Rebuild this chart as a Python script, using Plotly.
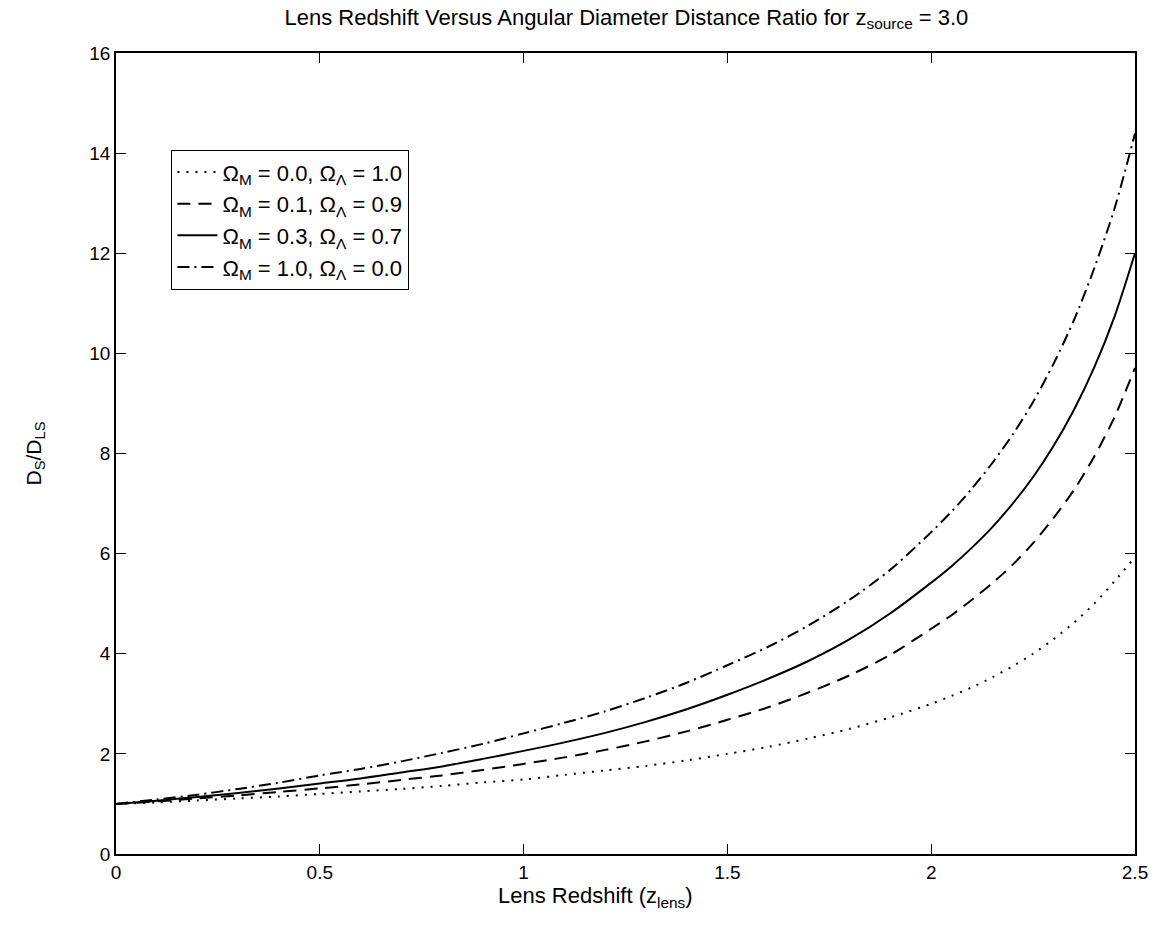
import plotly.graph_objects as go

# Lens redshift grid
z_lens = [0.0, 0.1, 0.2, 0.3, 0.4, 0.5, 0.6, 0.7, 0.8, 0.9, 1.0, 1.1, 1.2, 1.3,
          1.4, 1.5, 1.6, 1.7, 1.8, 1.9, 2.0, 2.05, 2.1, 2.15, 2.2, 2.25, 2.3,
          2.35, 2.4, 2.45, 2.5]

# D_S / D_LS for each cosmology
ratio_m00_l10 = [1.00, 1.03, 1.07, 1.11, 1.15, 1.20, 1.25, 1.30, 1.36, 1.43, 1.49, 1.58, 1.67,
                 1.76, 1.87, 2.00, 2.14, 2.31, 2.50, 2.73, 3.00, 3.16, 3.33, 3.53, 3.75,
                 4.00, 4.29, 4.62, 5.00, 5.45, 5.93]
ratio_m01_l09 = [1.00, 1.05, 1.11, 1.17, 1.24, 1.31, 1.39, 1.48, 1.57, 1.68, 1.80, 1.93, 2.08,
                 2.25, 2.45, 2.68, 2.93, 3.23, 3.57, 3.98, 4.50, 4.77, 5.08, 5.41, 5.78,
                 6.21, 6.71, 7.27, 7.94, 8.73, 9.71]
ratio_m03_l07 = [1.00, 1.065, 1.14, 1.22, 1.31, 1.41, 1.51, 1.63, 1.75, 1.90, 2.06, 2.23, 2.42,
                 2.64, 2.89, 3.18, 3.50, 3.86, 4.29, 4.81, 5.42, 5.75, 6.12, 6.53, 7.00,
                 7.53, 8.15, 8.87, 9.72, 10.74, 12.00]
ratio_m10_l00 = [1.00, 1.09, 1.185, 1.30, 1.425, 1.57, 1.70, 1.85, 2.02, 2.20, 2.41, 2.62, 2.85,
                 3.12, 3.42, 3.77, 4.14, 4.57, 5.08, 5.68, 6.43, 6.84, 7.30, 7.81, 8.38,
                 9.03, 9.79, 10.66, 11.70, 12.90, 14.39]

series_names = [
    "Ω<sub>M</sub> = 0.0, Ω<sub>Λ</sub> = 1.0",
    "Ω<sub>M</sub> = 0.1, Ω<sub>Λ</sub> = 0.9",
    "Ω<sub>M</sub> = 0.3, Ω<sub>Λ</sub> = 0.7",
    "Ω<sub>M</sub> = 1.0, Ω<sub>Λ</sub> = 0.0",
]
series_values = [ratio_m00_l10, ratio_m01_l09, ratio_m03_l07, ratio_m10_l00]
series_dash = ["2px,7px", "13px,8px", "solid", "12px,5px,2px,5px"]

x_ticks = [0, 0.5, 1, 1.5, 2, 2.5]
x_tick_labels = ["0", "0.5", "1", "1.5", "2", "2.5"]
y_ticks = [0, 2, 4, 6, 8, 10, 12, 14, 16]

FONT = "Liberation Sans, Arial, Helvetica, sans-serif"

fig = go.Figure()
for name, vals, dash in zip(series_names, series_values, series_dash):
    fig.add_trace(go.Scatter(
        x=z_lens, y=vals, mode="lines", name=name,
        line=dict(color="black", width=2, dash=dash, shape="spline", smoothing=0.8),
    ))

axis_common = dict(
    showline=True, linecolor="black", linewidth=1.6, mirror="allticks",
    ticks="inside", ticklen=10, tickwidth=1.4, tickcolor="black",
    showgrid=False, zeroline=False,
    tickfont=dict(family=FONT, size=19, color="black"),
)

fig.update_layout(
    width=1160, height=936,
    margin=dict(l=116, r=23, t=53, b=82),
    paper_bgcolor="white", plot_bgcolor="white",
    font=dict(family=FONT, color="black", size=20),
    title=dict(
        text="Lens Redshift Versus Angular Diameter Distance Ratio for z<sub>source</sub> = 3.0",
        x=0.54, xanchor="center", y=0.99, yanchor="top",
        font=dict(family=FONT, size=22, color="black"),
    ),
    xaxis=dict(range=[0, 2.5], tickvals=x_ticks, ticktext=x_tick_labels, **axis_common),
    yaxis=dict(range=[0, 16], tickvals=y_ticks,
               title=dict(text="D<sub>S</sub>/D<sub>LS</sub>", standoff=42,
                          font=dict(family=FONT, size=21)),
               **axis_common),
    legend=dict(
        x=0.054, y=0.879, xanchor="left", yanchor="top",
        bgcolor="white", bordercolor="black", borderwidth=1.4,
        font=dict(family=FONT, size=22, color="black"),
        itemwidth=40, tracegroupgap=0,
    ),
    showlegend=True,
    annotations=[dict(
        text="Lens Redshift (z<sub>lens</sub>)", xref="paper", yref="paper",
        x=0.471, y=-0.034, xanchor="center", yanchor="top", showarrow=False,
        font=dict(family=FONT, size=22, color="black"),
    )],
)

fig.write_html("out.html")
